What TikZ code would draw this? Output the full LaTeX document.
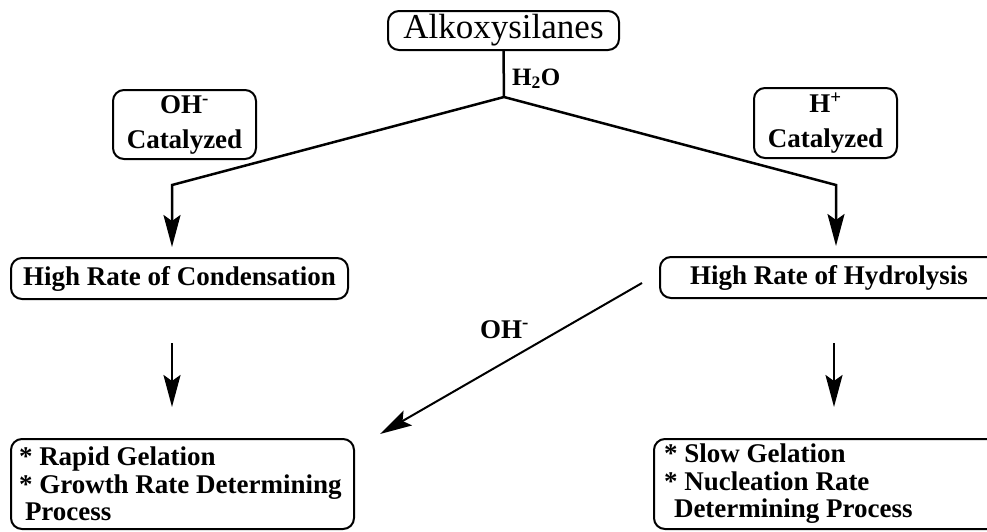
\documentclass[tikz,border=0pt]{standalone}
\usepackage{fontspec}
\setmainfont{Liberation Serif}
\usetikzlibrary{arrows.meta}
\begin{document}
\begin{tikzpicture}[x=1pt,y=-1pt,
  box/.style={draw, line width=2pt, rounded corners=11pt, inner sep=0pt},
  bf/.style={font=\fontsize{27}{35}\selectfont\bfseries},
  bfl/.style={font=\fontsize{27}{27.5}\selectfont\bfseries},
  conn/.style={line width=2.5pt},
  arr/.style={line width=2.5pt, -{Stealth[length=32pt,width=17pt,inset=6pt]}}]
\useasboundingbox (0,0) rectangle (987,531);
\clip (0,0) rectangle (987,531);

\node[box, minimum width=231pt, minimum height=39pt, font=\fontsize{35}{40}\selectfont] (alk) at (503.5,30.5) {Alkoxysilanes};
\coordinate (j) at (504,97);
\node[font=\fontsize{25}{30}\selectfont\bfseries, anchor=base west, inner sep=0pt] (h2o) at (512,85) {H\textsubscript{2}O};

\node[box, bf, align=center, minimum width=143pt, minimum height=69pt] (ohc) at (184.5,124.5) {OH\textsuperscript{-}\\Catalyzed};
\node[box, bf, align=center, minimum width=143pt, minimum height=70pt] (hc) at (825.5,123) {H\textsuperscript{+}\\Catalyzed};

\coordinate (lc) at (172,185);
\coordinate (lt) at (172,247);
\coordinate (rc) at (836,185);
\coordinate (rt) at (836,246);
\draw[conn] (alk.south) -- (j);
\draw[arr] (j) -- (lc) -- (lt);
\draw[arr] (j) -- (rc) -- (rt);

\node[box, bf, minimum width=337pt, minimum height=41pt] (cond) at (179.5,278.5) {High Rate of Condensation};
\node[box, bf, minimum width=338pt, minimum height=41pt] (hyd) at (829,277.5) {High Rate of Hydrolysis};

\coordinate (ls) at (172,343);
\coordinate (le) at (172,407);
\coordinate (rs) at (834,343);
\coordinate (re) at (834,407);
\draw[arr] (ls) -- (le);
\draw[arr] (rs) -- (re);

\coordinate (ds) at (642,283);
\coordinate (de) at (380,434);
\draw[arr, line width=2pt] (ds) -- (de);
\node[bf, anchor=base west, inner sep=0pt] (ohl) at (480,338) {OH\textsuperscript{-}};

\node[box, bfl, align=flush left, text width=327pt, inner xsep=8pt, minimum height=90pt, anchor=north west] (rap) at (10,438) {* Rapid Gelation\\{}* Growth Rate Determining\\{}\hspace*{6pt}Process};
\node[box, bfl, align=flush left, text width=340pt, inner xsep=10pt, minimum height=90pt, anchor=north west] (slow) at (653,438) {* Slow Gelation\\{}* Nucleation Rate\\{}\hspace*{10pt}Determining Process};
\end{tikzpicture}
\end{document}
